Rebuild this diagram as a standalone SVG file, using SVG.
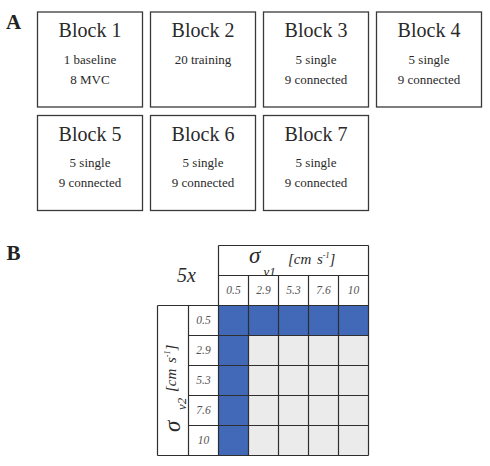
<svg xmlns="http://www.w3.org/2000/svg" width="490" height="466" viewBox="0 0 490 466">
  <!-- panel letters -->
  <text font-family="Liberation Serif" font-size="21" font-weight="bold" fill="#222222" x="6" y="29">A</text>
  <text font-family="Liberation Serif" font-size="21" font-weight="bold" fill="#222222" x="6.5" y="260">B</text>

  <!-- panel A: experiment blocks -->
  <g id="block1">
    <rect fill="#ffffff" stroke="#3a3a3a" stroke-width="1.3" x="37.5" y="12" width="105" height="95"/>
    <text font-family="Liberation Serif" font-size="20" fill="#2a2a2a" text-anchor="middle" x="90" y="37">Block 1</text>
    <text font-family="Liberation Serif" font-size="13" fill="#2a2a2a" text-anchor="middle" x="90" y="63.5">1 baseline</text>
    <text font-family="Liberation Serif" font-size="13" fill="#2a2a2a" text-anchor="middle" x="90" y="83.5">8 MVC</text>
  </g>
  <g id="block2">
    <rect fill="#ffffff" stroke="#3a3a3a" stroke-width="1.3" x="150.5" y="12" width="105" height="95"/>
    <text font-family="Liberation Serif" font-size="20" fill="#2a2a2a" text-anchor="middle" x="203" y="37">Block 2</text>
    <text font-family="Liberation Serif" font-size="13" fill="#2a2a2a" text-anchor="middle" x="203" y="63.5">20 training</text>
  </g>
  <g id="block3">
    <rect fill="#ffffff" stroke="#3a3a3a" stroke-width="1.3" x="263.5" y="12" width="105" height="95"/>
    <text font-family="Liberation Serif" font-size="20" fill="#2a2a2a" text-anchor="middle" x="316" y="37">Block 3</text>
    <text font-family="Liberation Serif" font-size="13" fill="#2a2a2a" text-anchor="middle" x="316" y="63.5">5 single</text>
    <text font-family="Liberation Serif" font-size="13" fill="#2a2a2a" text-anchor="middle" x="316" y="83.5">9 connected</text>
  </g>
  <g id="block4">
    <rect fill="#ffffff" stroke="#3a3a3a" stroke-width="1.3" x="376.5" y="12" width="105" height="95"/>
    <text font-family="Liberation Serif" font-size="20" fill="#2a2a2a" text-anchor="middle" x="429" y="37">Block 4</text>
    <text font-family="Liberation Serif" font-size="13" fill="#2a2a2a" text-anchor="middle" x="429" y="63.5">5 single</text>
    <text font-family="Liberation Serif" font-size="13" fill="#2a2a2a" text-anchor="middle" x="429" y="83.5">9 connected</text>
  </g>
  <g id="block5">
    <rect fill="#ffffff" stroke="#3a3a3a" stroke-width="1.3" x="37.5" y="115.5" width="105" height="95"/>
    <text font-family="Liberation Serif" font-size="20" fill="#2a2a2a" text-anchor="middle" x="90" y="141">Block 5</text>
    <text font-family="Liberation Serif" font-size="13" fill="#2a2a2a" text-anchor="middle" x="90" y="167">5 single</text>
    <text font-family="Liberation Serif" font-size="13" fill="#2a2a2a" text-anchor="middle" x="90" y="187">9 connected</text>
  </g>
  <g id="block6">
    <rect fill="#ffffff" stroke="#3a3a3a" stroke-width="1.3" x="150.5" y="115.5" width="105" height="95"/>
    <text font-family="Liberation Serif" font-size="20" fill="#2a2a2a" text-anchor="middle" x="203" y="141">Block 6</text>
    <text font-family="Liberation Serif" font-size="13" fill="#2a2a2a" text-anchor="middle" x="203" y="167">5 single</text>
    <text font-family="Liberation Serif" font-size="13" fill="#2a2a2a" text-anchor="middle" x="203" y="187">9 connected</text>
  </g>
  <g id="block7">
    <rect fill="#ffffff" stroke="#3a3a3a" stroke-width="1.3" x="263.5" y="115.5" width="105" height="95"/>
    <text font-family="Liberation Serif" font-size="20" fill="#2a2a2a" text-anchor="middle" x="316" y="141">Block 7</text>
    <text font-family="Liberation Serif" font-size="13" fill="#2a2a2a" text-anchor="middle" x="316" y="167">5 single</text>
    <text font-family="Liberation Serif" font-size="13" fill="#2a2a2a" text-anchor="middle" x="316" y="187">9 connected</text>
  </g>
  <g id="connectors"/>

  <!-- panel B: velocity grid -->
  <g id="grid-cells">
    <rect fill="#4169b8" x="218.5" y="305.5" width="150" height="30"/>
    <rect fill="#4169b8" x="218.5" y="335.5" width="30" height="120"/>
    <rect fill="#ebebeb" x="248.5" y="335.5" width="120" height="120"/>
  </g>

  <g id="grid-lines" stroke="#2e2e2e" stroke-width="1.2">
    <line x1="218.5" y1="245.5" x2="368.5" y2="245.5"/>
    <line x1="218.5" y1="275.5" x2="368.5" y2="275.5"/>
    <line x1="157.5" y1="305.5" x2="368.5" y2="305.5"/>
    <line x1="188.5" y1="335.5" x2="368.5" y2="335.5"/>
    <line x1="188.5" y1="365.5" x2="368.5" y2="365.5"/>
    <line x1="188.5" y1="395.5" x2="368.5" y2="395.5"/>
    <line x1="188.5" y1="425.5" x2="368.5" y2="425.5"/>
    <line x1="157.5" y1="455.5" x2="368.5" y2="455.5"/>
    <line x1="157.5" y1="305.5" x2="157.5" y2="455.5"/>
    <line x1="188.5" y1="305.5" x2="188.5" y2="455.5"/>
    <line x1="218.5" y1="245.5" x2="218.5" y2="455.5"/>
    <line x1="248.5" y1="275.5" x2="248.5" y2="455.5"/>
    <line x1="278.5" y1="275.5" x2="278.5" y2="455.5"/>
    <line x1="308.5" y1="275.5" x2="308.5" y2="455.5"/>
    <line x1="338.5" y1="275.5" x2="338.5" y2="455.5"/>
    <line x1="368.5" y1="245.5" x2="368.5" y2="455.5"/>
  </g>

  <!-- corner label -->
  <text font-family="Liberation Serif" font-style="italic" fill="#2a2a2a" x="177" y="281.5" font-size="20">5x</text>

  <!-- column axis title -->
  <g id="axis-v1" fill="#2a2a2a">
    <text font-family="Liberation Serif" font-style="italic" x="249" y="263" font-size="23">σ</text>
    <text font-family="Liberation Serif" font-style="italic" x="263.5" y="275.5" font-size="13">v1</text>
    <text font-family="Liberation Serif" font-style="italic" x="288" y="264" font-size="15">[cm</text>
    <text font-family="Liberation Serif" font-style="italic" x="317" y="264" font-size="15">s<tspan font-size="8" dy="-6">-1</tspan><tspan dy="6">]</tspan></text>
  </g>

  <!-- row axis title (vertical) -->
  <g id="axis-v2" fill="#2a2a2a" transform="translate(180,432) rotate(-90)">
    <text font-family="Liberation Serif" font-style="italic" x="0" y="0" font-size="23">σ</text>
    <text font-family="Liberation Serif" font-style="italic" x="22" y="6" font-size="13">v2</text>
    <text font-family="Liberation Serif" font-style="italic" x="40" y="-4" font-size="15">[cm</text>
    <text font-family="Liberation Serif" font-style="italic" x="69" y="-4" font-size="15">s<tspan font-size="8" dy="-6">-1</tspan><tspan dy="6">]</tspan></text>
  </g>

  <!-- column values -->
  <g id="col-values" fill="#555555" text-anchor="middle">
    <text font-family="Liberation Serif" font-style="italic" font-size="11.5" x="233.5" y="293.5">0.5</text>
    <text font-family="Liberation Serif" font-style="italic" font-size="11.5" x="263.5" y="293.5">2.9</text>
    <text font-family="Liberation Serif" font-style="italic" font-size="11.5" x="293.5" y="293.5">5.3</text>
    <text font-family="Liberation Serif" font-style="italic" font-size="11.5" x="323.5" y="293.5">7.6</text>
    <text font-family="Liberation Serif" font-style="italic" font-size="11.5" x="353.5" y="293.5">10</text>
  </g>

  <!-- row values -->
  <g id="row-values" fill="#555555" text-anchor="middle">
    <text font-family="Liberation Serif" font-style="italic" font-size="11.5" x="203.5" y="323.5">0.5</text>
    <text font-family="Liberation Serif" font-style="italic" font-size="11.5" x="203.5" y="353.5">2.9</text>
    <text font-family="Liberation Serif" font-style="italic" font-size="11.5" x="203.5" y="383.5">5.3</text>
    <text font-family="Liberation Serif" font-style="italic" font-size="11.5" x="203.5" y="413.5">7.6</text>
    <text font-family="Liberation Serif" font-style="italic" font-size="11.5" x="203.5" y="443.5">10</text>
  </g>
</svg>
